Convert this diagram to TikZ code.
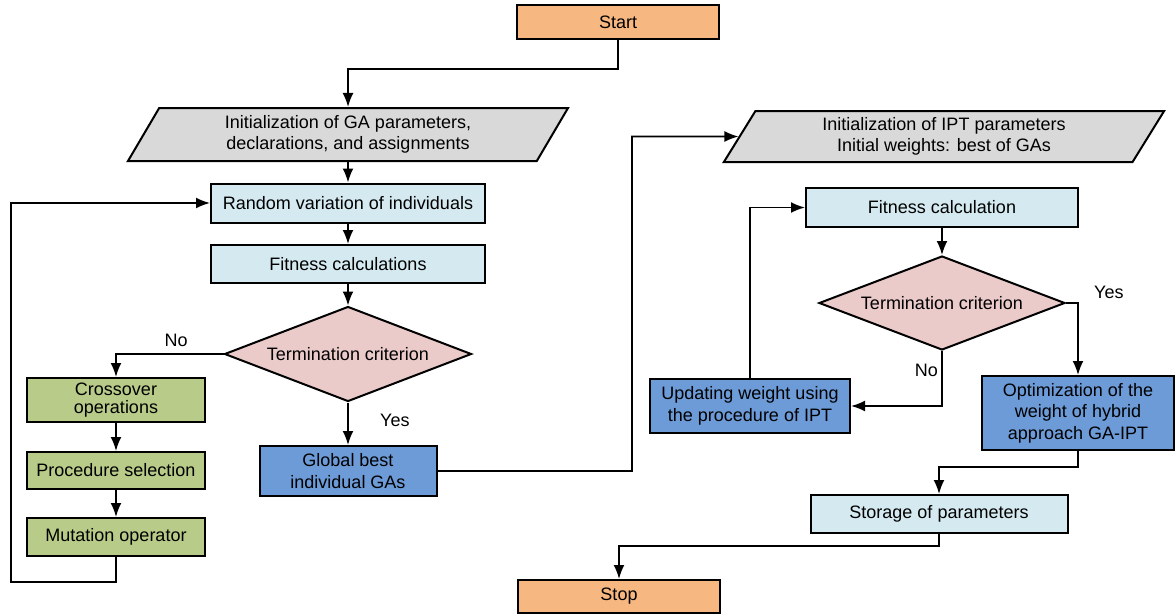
\documentclass[tikz,border=0pt]{standalone}
\usepackage{fontspec}
\setmainfont{Liberation Sans}
\usetikzlibrary{arrows.meta,positioning,calc,shapes.geometric}
\definecolor{FlowOrange}{HTML}{F7B781}
\definecolor{FlowGrey}{HTML}{D9D9D9}
\definecolor{FlowCyan}{HTML}{D4EAF0}
\definecolor{FlowPink}{HTML}{EBCACA}
\definecolor{FlowOlive}{HTML}{B8CB88}
\definecolor{FlowBlue}{HTML}{6C9BD8}

\begin{document}
\begin{tikzpicture}[x=1pt,y=-1pt,>={Latex[length=14pt,width=11pt]},
  font=\fontsize{18}{21.5}\selectfont,
  box/.style={draw,line width=2pt,minimum height=38pt,inner sep=2pt,align=center},
  term/.style={box,fill=FlowOrange,minimum width=202pt,minimum height=34pt},
  io/.style={draw,line width=2pt,fill=FlowGrey,trapezium,trapezium left angle=62,
             trapezium right angle=118,trapezium stretches=true,align=center,inner sep=0pt},
  proc/.style={box,fill=FlowCyan},
  gen/.style={box,fill=FlowOlive,minimum width=178pt},
  best/.style={box,fill=FlowBlue},
  test/.style={draw,line width=2pt,fill=FlowPink,diamond,aspect=2.6,inner sep=0pt},
  link/.style={->,line width=1.8pt}]
  \useasboundingbox (0,0) rectangle (1175,614);

  % GA part
  \node[term] (start) at (618,22) {Start};
  \node[io,minimum width=441pt,minimum height=53pt] (gainit) at (348,134.5)
        {Initialization of GA parameters,\\declarations, and assignments};
  \node[proc,minimum width=274pt,minimum height=39pt] (randvar) at (348,203) {Random variation of individuals};
  \node[proc,minimum width=274pt] (fitga) at (348,264) {Fitness calculations};
  \node[test,minimum width=247pt,minimum height=95pt] (termga) at (348,354) {Termination criterion};
  \node[gen,minimum height=44pt] (cross) at (116,400) {Crossover\\[-3pt]operations};
  \node[gen,minimum height=37pt] (procsel) at (116,470.5) {Procedure selection};
  \node[gen] (mutop) at (116,537) {Mutation operator};
  \node[best,minimum width=177pt,minimum height=50pt] (gbest) at (348,471) {Global best\\individual GAs};

  % IPT part
  \node[io,minimum width=442pt,minimum height=51pt] (iptinit) at (944,136.5)
        {Initialization of IPT parameters\\Initial weights: best of GAs};
  \node[proc,minimum width=272pt,minimum height=39pt] (fitipt) at (942,207.5) {Fitness calculation};
  \node[test,minimum width=246pt,minimum height=94pt] (termipt) at (942,303) {Termination criterion};
  \node[best,minimum width=200pt,minimum height=54pt] (update) at (750,406)
        {Updating weight using\\the procedure of IPT};
  \node[best,minimum width=192pt,minimum height=74pt] (optim) at (1078,413)
        {Optimization of the\\weight of hybrid\\approach GA-IPT};
  \node[proc,minimum width=257pt,minimum height=38pt] (storage) at (939,514) {Storage of parameters};
  \node[term,minimum height=33pt] (stop) at (619,596.5) {Stop};

  \coordinate (loopga) at (11,582);
  \coordinate (bridge) at (632,136.5);

  \draw[link] (start.south) -- ++(0,29) -| (gainit);
  \draw[link] (gainit) -- (randvar);
  \draw[link] (randvar) -- (fitga);
  \draw[link] (fitga) -- (termga);
  \draw[link] (termga.west) -| node[pos=0.22,above,yshift=3pt]{No} (cross.north);
  \draw[link] (termga) -- node[pos=0.42,right=28pt]{Yes} (gbest);
  \draw[link] (cross) -- (procsel);
  \draw[link] (procsel) -- (mutop);
  \draw[link] (mutop.south) |- (loopga) |- (randvar.west);
  \draw[link] (gbest.east) -| (bridge) -- (iptinit);

  \draw[link] (fitipt) -- (termipt);
  \draw[link] (termipt.east) -| node[pos=0.5,anchor=south west,xshift=12pt]{Yes} (optim.north);
  \draw[link] (termipt.south) |- node[pos=0.18,left]{No} (update.east);
  \draw[link] (update.north) |- (fitipt.west);
  \draw[link] (optim.south) -- ++(0,16) -| (storage.north);
  \draw[link] (storage.south) -- ++(0,12) -| (stop.north);
\end{tikzpicture}
\end{document}
